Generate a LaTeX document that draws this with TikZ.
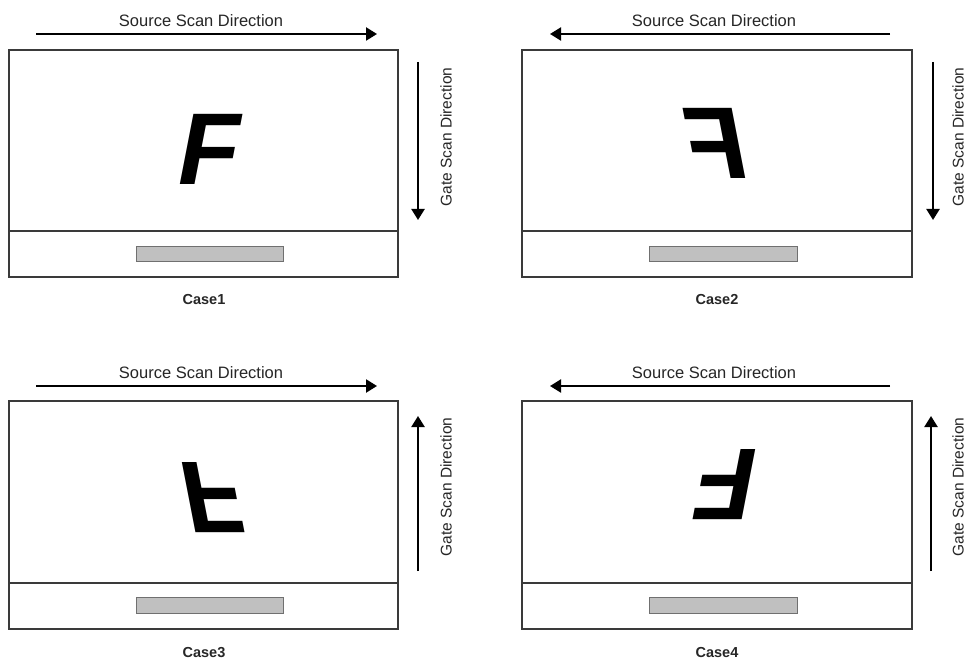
\documentclass[tikz,border=0pt]{standalone}
\usepackage{fontspec}
\setmainfont{Liberation Sans}
\usetikzlibrary{arrows.meta}
\begin{document}
\definecolor{edge}{HTML}{3A3A3A}
\definecolor{barfill}{HTML}{C0C0C0}
\definecolor{baredge}{HTML}{707070}
\tikzset{
  panelbox/.style={draw=edge, line width=1.5pt},
  graybar/.style={draw=baredge, fill=barfill, line width=1pt},
  scanarrow/.style={draw=black, line width=2.2pt, -{Triangle[length=11pt,width=13pt]}},
  srclabel/.style={font=\fontsize{16.5}{19}\selectfont, text=black!85, inner sep=0pt},
  gatelabel/.style={font=\fontsize{15.5}{19}\selectfont, text=black!85, inner sep=0pt, rotate=90},
  caselabel/.style={font=\bfseries\fontsize{14.5}{17}\selectfont, text=black!85, inner sep=0pt},
  bigF/.style={font=\bfseries\itshape\fontsize{102}{102}\selectfont, inner sep=0pt},
}
\begin{tikzpicture}[x=1pt,y=-1pt]
\useasboundingbox (0,0) rectangle (968,660);
\fill[white] (0,0) rectangle (968,660);

% ---------- Case 1 ----------
\draw[panelbox] (9,50) rectangle (398,277);
\draw[panelbox] (9,231) -- (398,231);
\draw[graybar] (136,246) rectangle (283,261);
\coordinate (s1a) at (36,34); \coordinate (s1b) at (377,34);
\draw[scanarrow] (s1a) -- (s1b);
\node[srclabel] (src1) at (201,21) {Source Scan Direction};
\coordinate (g1a) at (418,62); \coordinate (g1b) at (418,220);
\draw[scanarrow] (g1a) -- (g1b);
\node[gatelabel] (gate1) at (446,137) {Gate Scan Direction};
\node[bigF] (f1) at (210,149) {F};
\node[caselabel] (case1) at (204,300) {Case1};

% ---------- Case 2 ----------
\draw[panelbox] (522,50) rectangle (912,277);
\draw[panelbox] (522,231) -- (912,231);
\draw[graybar] (649,246) rectangle (797,261);
\coordinate (s2a) at (890,34); \coordinate (s2b) at (550,34);
\draw[scanarrow] (s2a) -- (s2b);
\node[srclabel] (src2) at (714,21) {Source Scan Direction};
\coordinate (g2a) at (933,62); \coordinate (g2b) at (933,220);
\draw[scanarrow] (g2a) -- (g2b);
\node[gatelabel] (gate2) at (958,137) {Gate Scan Direction};
\node[bigF, xscale=-1] (f2) at (716,143) {F};
\node[caselabel] (case2) at (717,300) {Case2};

% ---------- Case 3 ----------
\draw[panelbox] (9,401) rectangle (398,629);
\draw[panelbox] (9,583) -- (398,583);
\draw[graybar] (136,597) rectangle (283,613);
\coordinate (s3a) at (36,386); \coordinate (s3b) at (377,386);
\draw[scanarrow] (s3a) -- (s3b);
\node[srclabel] (src3) at (201,373) {Source Scan Direction};
\coordinate (g3a) at (418,571); \coordinate (g3b) at (418,416);
\draw[scanarrow] (g3a) -- (g3b);
\node[gatelabel] (gate3) at (446,487) {Gate Scan Direction};
\node[bigF, yscale=-1] (f3) at (212,498) {F};
\node[caselabel] (case3) at (204,653) {Case3};

% ---------- Case 4 ----------
\draw[panelbox] (522,401) rectangle (912,629);
\draw[panelbox] (522,583) -- (912,583);
\draw[graybar] (649,597) rectangle (797,613);
\coordinate (s4a) at (890,386); \coordinate (s4b) at (550,386);
\draw[scanarrow] (s4a) -- (s4b);
\node[srclabel] (src4) at (714,373) {Source Scan Direction};
\coordinate (g4a) at (931,571); \coordinate (g4b) at (931,416);
\draw[scanarrow] (g4a) -- (g4b);
\node[gatelabel] (gate4) at (958,487) {Gate Scan Direction};
\node[bigF, rotate=180] (f4) at (726,485) {F};
\node[caselabel] (case4) at (717,653) {Case4};
\end{tikzpicture}
\end{document}
